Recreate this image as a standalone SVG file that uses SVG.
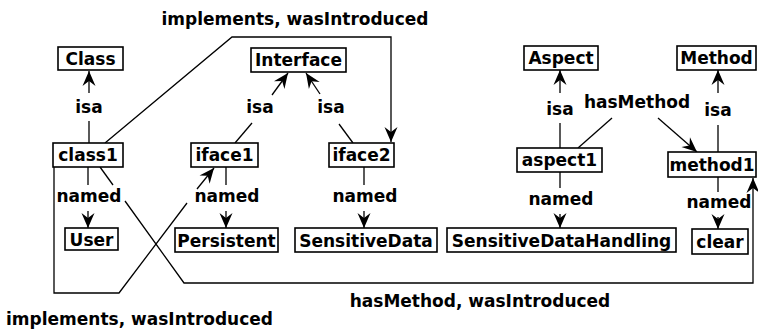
<svg xmlns="http://www.w3.org/2000/svg" width="758" height="332" viewBox="0 0 758 332">
<style>
  .box{fill:#fff;stroke:#000;stroke-width:1.6}
  text{font-family:"DejaVu Sans","Liberation Sans",sans-serif;font-weight:bold;font-size:17px;fill:#000;text-anchor:middle}
  .e{fill:none;stroke:#000;stroke-width:1.3}
  .a{marker-end:url(#arr)}
</style>
<defs>
  <marker id="arr" markerUnits="userSpaceOnUse" markerWidth="18" markerHeight="16" viewBox="-16 -8 18 16" refX="0" refY="0" orient="auto">
    <path d="M0,0 L-15,-6.5 L-10,0 L-15,6.5 Z" fill="#000"/>
  </marker>
</defs>
<rect width="758" height="332" fill="#fff"/>
<g id="connectors">
  <line class="e" x1="89" y1="143" x2="89" y2="121"/>
  <line class="e a" x1="89" y1="93" x2="89" y2="71"/>
  <line class="e" x1="235" y1="143" x2="252" y2="123"/>
  <line class="e a" x1="272" y1="95" x2="288" y2="73"/>
  <line class="e" x1="353" y1="143" x2="339" y2="124"/>
  <line class="e a" x1="320" y1="94" x2="306" y2="73"/>
  <polyline class="e a" points="105,143 232,37 391,37 391,142"/>
  <polyline class="e" points="54,167 54,293 119,293 187,203"/>
  <line class="e a" x1="197" y1="189" x2="214" y2="168"/>
  <line class="e" x1="100" y1="167" x2="113" y2="185"/>
  <polyline class="e a" points="125,201 184,283 753,283 753,178"/>
  <line class="e" x1="560" y1="148" x2="560" y2="123"/>
  <line class="e a" x1="560" y1="93" x2="560" y2="70"/>
  <line class="e" x1="578" y1="148" x2="612" y2="118"/>
  <line class="e a" x1="658" y1="118" x2="697" y2="152"/>
  <line class="e" x1="718" y1="152" x2="718" y2="125"/>
  <line class="e a" x1="718" y1="93" x2="718" y2="70"/>
  <line class="e" x1="88" y1="167" x2="88" y2="185"/>
  <line class="e a" x1="88" y1="211" x2="88" y2="228"/>
  <line class="e" x1="226" y1="167" x2="226" y2="185"/>
  <line class="e a" x1="226" y1="211" x2="226" y2="228"/>
  <line class="e" x1="364" y1="167" x2="364" y2="185"/>
  <line class="e a" x1="364" y1="211" x2="364" y2="228"/>
  <line class="e" x1="560" y1="172" x2="560" y2="188"/>
  <line class="e a" x1="560" y1="214" x2="560" y2="228"/>
  <line class="e" x1="718" y1="177" x2="718" y2="192"/>
  <line class="e a" x1="718" y1="217" x2="718" y2="229"/>
</g>
<g id="edge-labels">
  <text x="295" y="25">implements, wasIntroduced</text>
  <text x="89" y="113">isa</text>
  <text x="260" y="113">isa</text>
  <text x="331" y="113">isa</text>
  <text x="560" y="115">isa</text>
  <text x="637" y="108">hasMethod</text>
  <text x="718" y="116">isa</text>
  <text x="89" y="202">named</text>
  <text x="227" y="202">named</text>
  <text x="365" y="202">named</text>
  <text x="561" y="205">named</text>
  <text x="719" y="208">named</text>
  <text x="480" y="307">hasMethod, wasIntroduced</text>
  <text x="139.5" y="325">implements, wasIntroduced</text>
</g>
<g id="Class"><rect class="box" x="58" y="47" width="65" height="23"/><text x="90.5" y="64.5">Class</text></g>
<g id="Interface"><rect class="box" x="251" y="48" width="95" height="24"/><text x="298.5" y="66">Interface</text></g>
<g id="Aspect"><rect class="box" x="524" y="46" width="74" height="24"/><text x="561" y="64">Aspect</text></g>
<g id="Method"><rect class="box" x="677" y="46" width="79" height="24"/><text x="716.5" y="64">Method</text></g>
<g id="class1"><rect class="box" x="53" y="143" width="70" height="24"/><text x="88" y="161">class1</text></g>
<g id="iface1"><rect class="box" x="191" y="143" width="67" height="24"/><text x="224.5" y="161">iface1</text></g>
<g id="iface2"><rect class="box" x="329" y="143" width="65" height="24"/><text x="361.5" y="161">iface2</text></g>
<g id="aspect1"><rect class="box" x="517" y="148" width="85" height="24"/><text x="559.5" y="166">aspect1</text></g>
<g id="method1"><rect class="box" x="668" y="152" width="88" height="25"/><text x="712" y="170.5">method1</text></g>
<g id="User"><rect class="box" x="65" y="228" width="53" height="22"/><text x="91.5" y="245.5">User</text></g>
<g id="Persistent"><rect class="box" x="175" y="228" width="103" height="24"/><text x="226.5" y="246.5">Persistent</text></g>
<g id="SensitiveData"><rect class="box" x="295" y="228" width="142" height="24"/><text x="366" y="246.5">SensitiveData</text></g>
<g id="SensitiveDataHandling"><rect class="box" x="447" y="228" width="229" height="24"/><text x="561.5" y="246.5">SensitiveDataHandling</text></g>
<g id="clear"><rect class="box" x="692" y="229" width="56" height="25"/><text x="720" y="247.5">clear</text></g>
</svg>
